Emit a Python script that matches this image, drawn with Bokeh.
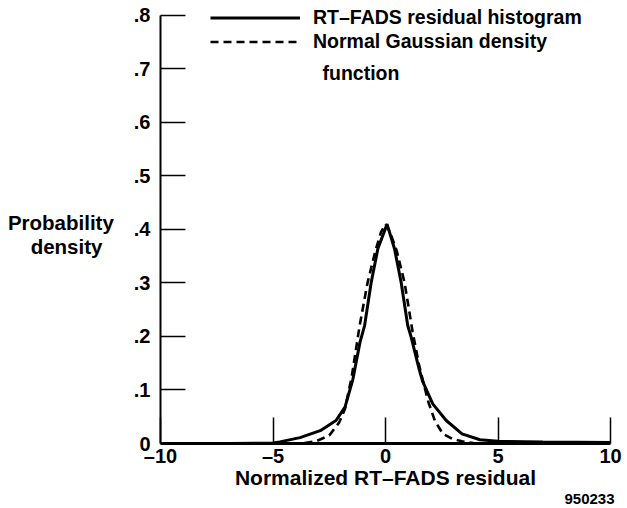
from bokeh.plotting import figure
from bokeh.models import (FixedTicker, CustomJSTickFormatter, Legend, LegendItem,
                          Label, Range1d, Title)
from bokeh.embed import file_html
from bokeh.resources import INLINE

# ---- data ----
hist_x = [-10, -7, -5, -4.7, -3.8, -2.9, -2.2, -1.8, -1.45, -1.13, -0.93, -0.64,
          -0.34, 0.07, 0.4, 0.7, 0.99, 1.14, 1.5, 1.66, 2.1, 2.7, 3.4, 4.2, 5.0, 7, 10]
hist_y = [0.0, 0.0, 0.001, 0.003, 0.011, 0.024, 0.043, 0.068, 0.12, 0.19, 0.22, 0.30,
          0.364, 0.41, 0.364, 0.30, 0.22, 0.199, 0.138, 0.115, 0.074, 0.043, 0.018,
          0.007, 0.004, 0.003, 0.002]

gauss_x = [-3.6, -3.1, -2.5, -2.05, -1.8, -1.5, -1.15, -0.8, -0.45, -0.2, 0.0, 0.2,
           0.5, 0.85, 1.2, 1.5, 1.9, 2.2, 2.55, 3.0, 3.4, 3.9]
gauss_y = [0.001, 0.004, 0.015, 0.040, 0.065, 0.125, 0.22, 0.30, 0.36, 0.395, 0.41,
           0.395, 0.36, 0.30, 0.21, 0.145, 0.078, 0.042, 0.018, 0.008, 0.004, 0.001]

x_ticks = [-10, -5, 0, 5, 10]
y_ticks = [0, 0.1, 0.2, 0.3, 0.4, 0.5, 0.6, 0.7, 0.8]

series_names = ["RT\u2013FADS residual histogram", "Normal Gaussian density"]
legend_extra = "function"
x_title = "Normalized RT\u2013FADS residual"
y_title = "\u00a0\nProbability\ndensity\u00a0\u00a0"
figure_id = "950233"

FONT = "Liberation Sans"

p = figure(width=627, height=508, output_backend="svg", toolbar_location=None,
           x_range=Range1d(-10, 10), y_range=Range1d(0, 0.828),
           min_border_left=160, min_border_right=17, min_border_top=0,
           min_border_bottom=65)
p.outline_line_color = None
p.xgrid.visible = False
p.ygrid.visible = False
p.background_fill_color = "white"
p.border_fill_color = "white"

r1 = p.line(hist_x, hist_y, line_color="black", line_width=3)
r2 = p.line(gauss_x, gauss_y, line_color="black", line_width=2.6, line_dash="8 5")

# x axis
xa = p.xaxis[0]
xa.ticker = FixedTicker(ticks=x_ticks)
xa.formatter = CustomJSTickFormatter(code="return tick < 0 ? '\u2013' + Math.abs(tick) : '' + tick;")
xa.major_tick_in = 26
xa.major_tick_out = 0
xa.minor_tick_line_color = None
xa.axis_line_width = 3
xa.major_tick_line_width = 1.5
xa.major_label_text_font = FONT
xa.major_label_text_font_style = "bold"
xa.major_label_text_font_size = "20px"
xa.major_label_text_color = "black"
xa.major_label_standoff = 1
xa.axis_label = x_title
xa.axis_label_text_font = FONT
xa.axis_label_text_font_style = "bold"
xa.axis_label_text_font_size = "21px"
xa.axis_label_text_color = "black"
xa.axis_label_standoff = -4

# y axis
ya = p.yaxis[0]
ya.ticker = FixedTicker(ticks=y_ticks)
ya.bounds = (0, 0.8)
ya.formatter = CustomJSTickFormatter(code="return tick == 0 ? '0' : tick.toFixed(1).replace(/^0/, '');")
ya.major_tick_in = 25
ya.major_tick_out = 0
ya.minor_tick_line_color = None
ya.axis_line_width = 2
ya.major_tick_line_width = 1.5
ya.major_label_text_font = FONT
ya.major_label_text_font_style = "bold"
ya.major_label_text_font_size = "20px"
ya.major_label_text_color = "black"
ya.major_label_standoff = 10
ya.axis_label = y_title
ya.axis_label_orientation = "horizontal"
ya.axis_label_text_align = "center"
ya.axis_label_text_font = FONT
ya.axis_label_text_font_style = "bold"
ya.axis_label_text_font_size = "20.5px"
ya.axis_label_text_line_height = 1.05
ya.axis_label_text_color = "black"
ya.axis_label_standoff = 17

# legend
legend = Legend(items=[LegendItem(label=series_names[0], renderers=[r1]),
                       LegendItem(label=series_names[1], renderers=[r2])],
                location=(50, 390.5), glyph_width=90, glyph_height=21, label_height=21,
                spacing=1, padding=0, margin=0, label_standoff=13,
                border_line_color=None, background_fill_alpha=0,
                label_text_font=FONT, label_text_font_style="bold",
                label_text_font_size="19.5px", label_text_color="black")
p.add_layout(legend, "center")

p.add_layout(Label(x=-2.8, y=0.693, text=legend_extra, text_align="left",
                   text_baseline="middle", text_font=FONT, text_font_style="bold",
                   text_font_size="19.5px", text_color="black"))

p.add_layout(Title(text=figure_id, align="right", text_font=FONT,
                   text_font_style="bold", text_font_size="15px", offset=-4,
                   text_color="black", standoff=0), "below")

open("out.html", "w").write(file_html(p, INLINE))
